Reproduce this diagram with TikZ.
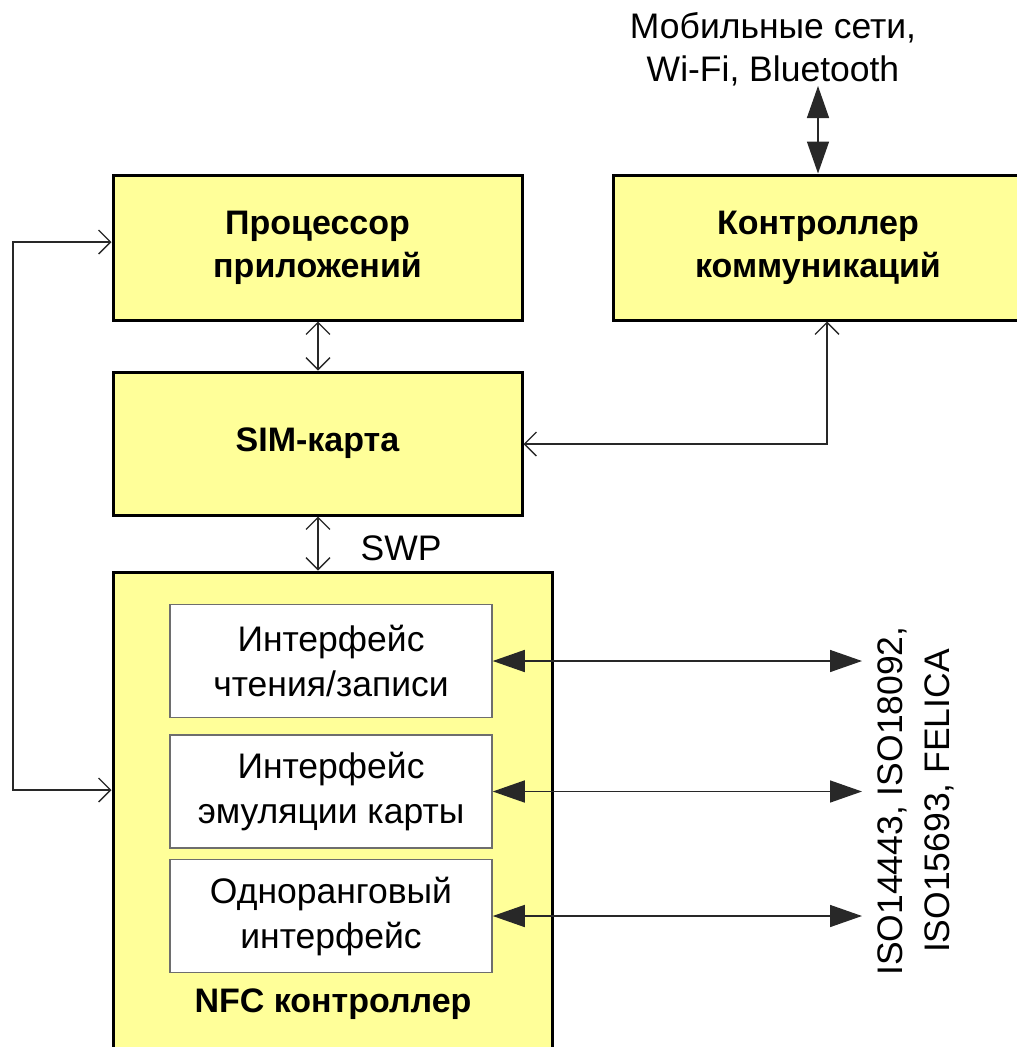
\documentclass[tikz,border=0pt]{standalone}
\usepackage{fontspec}
\setmainfont{Liberation Sans}
\usetikzlibrary{arrows.meta}
\definecolor{boxyellow}{RGB}{255,255,153}
\definecolor{framegray}{RGB}{110,110,110}
\definecolor{wiregray}{RGB}{40,40,40}
\begin{document}
\begin{tikzpicture}[x=1pt,y=-1pt,
  blk/.style={draw=black,line width=3pt,fill=boxyellow,inner sep=0pt,
    font=\fontsize{34}{43}\selectfont\bfseries,align=center},
  ifbox/.style={draw=framegray,line width=1.5pt,fill=white,inner sep=0pt,
    minimum width=322pt,minimum height=113pt,
    font=\fontsize{35.5}{45}\selectfont,align=center},
  wire/.style={draw=wiregray,line width=1.3pt,
    {Straight Barb[length=12pt,width=24pt]}-{Straight Barb[length=12pt,width=24pt]}},
  bus/.style={draw=wiregray,line width=1.5pt,
    {Triangle[length=32pt,width=22pt]}-{Triangle[length=32pt,width=22pt]}},
  lbl/.style={font=\fontsize{35.5}{43}\selectfont,align=center,inner sep=0pt}]
\useasboundingbox (0,0) rectangle (1017,1047);

% main blocks
\node[blk,minimum width=409pt,minimum height=145pt] (proc) at (317.5,247.5) {Процессор\\приложений};
\node[blk,minimum width=410pt,minimum height=145pt] (comm) at (818,247.5) {Контроллер\\коммуникаций};
\node[blk,minimum width=409pt,minimum height=143pt] (sim) at (317.5,443.5) {SIM-карта};
\node[blk,minimum width=439pt,minimum height=482pt] (nfc) at (332.5,813) {};
\node[font=\fontsize{34}{43}\selectfont\bfseries,inner sep=0pt] (nfclbl) at (333,1004) {NFC контроллер};

% interfaces inside the NFC controller
\node[ifbox] (rw) at (331,661) {Интерфейс\\чтения/записи};
\node[ifbox] (ce) at (331,791.5) {Интерфейс\\эмуляции карты};
\node[ifbox] (p2p) at (331,916) {Одноранговый\\интерфейс};

% external labels
\node[lbl] (net) at (773,49) {Мобильные сети,\\Wi-Fi, Bluetooth};
\node[font=\fontsize{35.5}{47}\selectfont,align=center,inner sep=0pt,rotate=90] (std) at (916,801) {ISO14443, ISO18092,\\ISO15693, FELICA};
\node[font=\fontsize{35.5}{40}\selectfont,inner sep=0pt] (swp) at (401,548) {SWP};

% external link ends
\coordinate (netend) at (818,86);
\coordinate (rwend) at (862,661);
\coordinate (ceend) at (862,791.5);
\coordinate (p2pend) at (862,916);

% internal links
\draw[wire] (proc.south -| 318,0) -- (sim.north -| 318,0);
\draw[wire] (sim.south -| 318,0) -- (nfc.north -| 318,0);
\draw[wire] (comm.south -| 827,0) |- (sim.east |- 0,444);
\draw[wire] (proc.west |- 0,242) -| (13,516) |- (nfc.west |- 0,790);

% external links
\draw[bus] (netend) -- (comm.north -| netend);
\draw[bus] (rw.east) -- (rwend);
\draw[bus] (ce.east) -- (ceend);
\draw[bus] (p2p.east) -- (p2pend);
\end{tikzpicture}
\end{document}
